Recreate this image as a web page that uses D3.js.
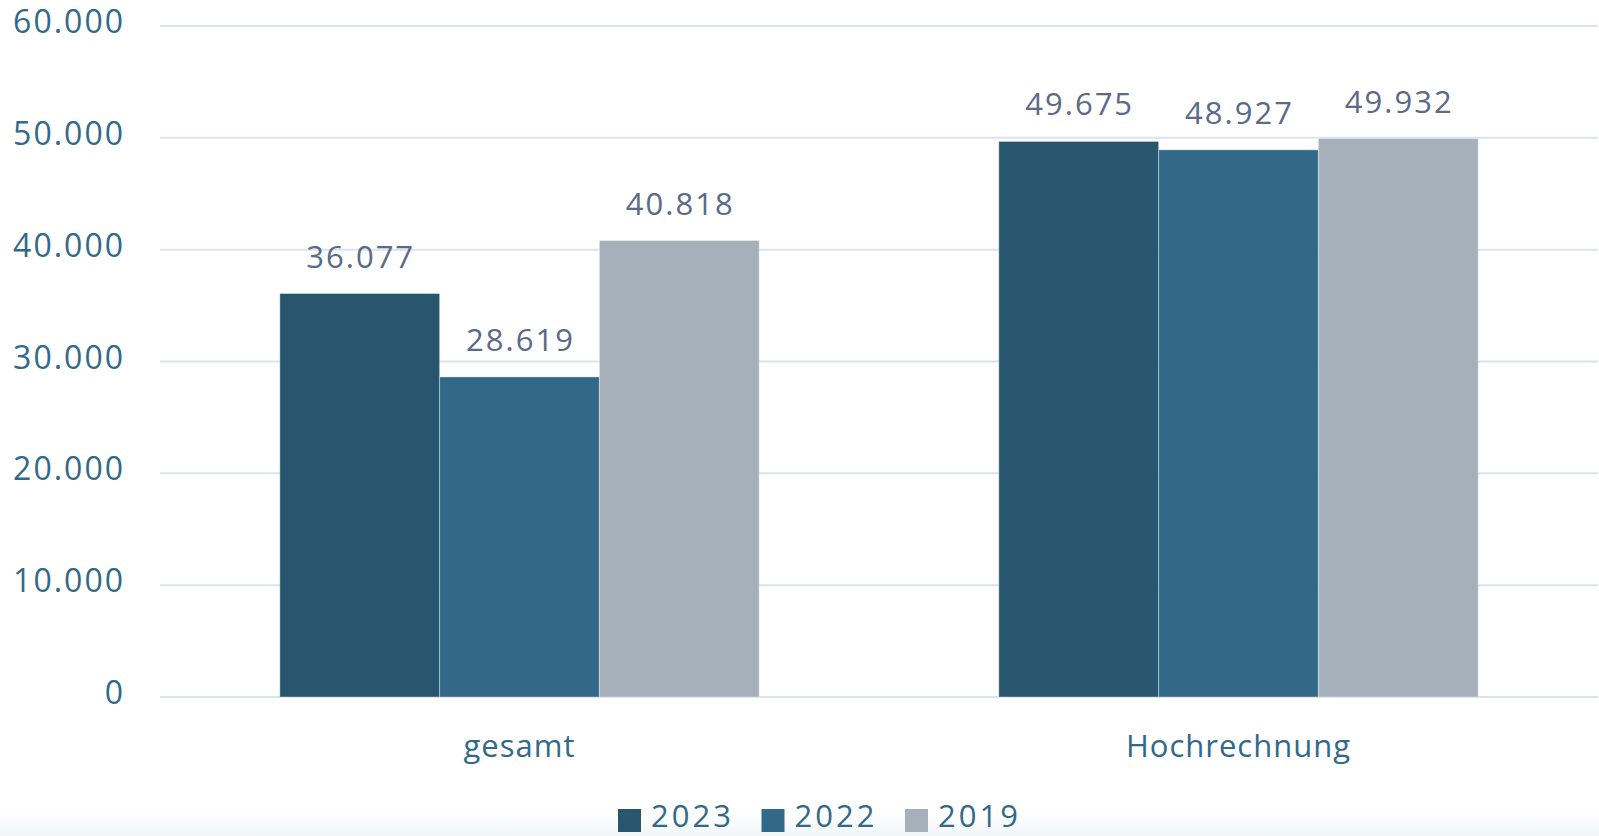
<!DOCTYPE html>
<html>
<head>
<meta charset="utf-8">
<script src="https://cdn.jsdelivr.net/npm/d3@7"></script>
<style>
  html, body { margin: 0; padding: 0; background: #fff; }
  svg { display: block; font-family: "Open Sans", "Noto Sans", sans-serif; }
</style>
</head>
<body>
<div id="chart"></div>
<script>
// Daten
var kategorien = ["gesamt", "Hochrechnung"];
var jahre = ["2023", "2022", "2019"];
var werte2023 = [36077, 49675];
var werte2022 = [28619, 48927];
var werte2019 = [40818, 49932];
var yTicks = [0, 10000, 20000, 30000, 40000, 50000, 60000];
var farben = ["#28566f", "#336988", "#a5b0bb"];

var width = 1599;
var height = 836;

var svg = d3.select("#chart").append("svg")
    .attr("width", width)
    .attr("height", height);

// leichter Verlauf am unteren Rand
var defs = svg.append("defs");
var grad = defs.append("linearGradient")
    .attr("id", "bodenVerlauf")
    .attr("x1", 0).attr("y1", 0).attr("x2", 0).attr("y2", 1);
grad.append("stop").attr("offset", "0%").attr("stop-color", "#ffffff");
grad.append("stop").attr("offset", "100%").attr("stop-color", "#f1f6f9");
svg.append("rect")
    .attr("x", 0).attr("y", 812)
    .attr("width", width).attr("height", height - 812)
    .attr("fill", "url(#bodenVerlauf)");

var links = 160, rechts = 1598, oben = 26, unten = 697;

var y = d3.scaleLinear()
    .domain([0, 60000])
    .range([unten, oben]);

var x0 = d3.scaleBand()
    .domain(kategorien)
    .range([links, rechts])
    .padding(0);

var x1 = d3.scaleBand()
    .domain(jahre)
    .range([x0.bandwidth() / 6, x0.bandwidth() * 5 / 6])
    .padding(0);

var format = function(v) { return d3.format(",")(v).replace(/,/g, "."); };

// Gitterlinien
svg.append("g")
  .selectAll("line")
    .data(yTicks)
  .enter().append("line")
    .attr("x1", links)
    .attr("x2", rechts)
    .attr("y1", function(d) { return y(d); })
    .attr("y2", function(d) { return y(d); })
    .attr("stroke", "#d8e5ee")
    .attr("stroke-width", 2);

// Y-Achsenbeschriftung
svg.append("g")
  .selectAll("text")
    .data(yTicks)
  .enter().append("text")
    .attr("x", 125)
    .attr("y", function(d) { return y(d) + 7; })
    .attr("text-anchor", "end")
    .attr("fill", "#336988")
    .attr("font-size", 32)
    .attr("letter-spacing", 2)
    .text(function(d) { return format(d); });

// Datenzeilen
var reihen = [werte2023, werte2022, werte2019];
var daten = [];
kategorien.forEach(function(k, i) {
  jahre.forEach(function(j, s) {
    daten.push({ kategorie: k, jahr: j, wert: reihen[s][i], farbe: farben[s] });
  });
});

var balken = svg.append("g")
  .selectAll("g")
    .data(daten)
  .enter().append("g")
    .attr("transform", function(d) { return "translate(" + (x0(d.kategorie) + x1(d.jahr)) + ",0)"; });

balken.append("rect")
    .attr("x", 0)
    .attr("y", function(d) { return y(d.wert); })
    .attr("width", x1.bandwidth())
    .attr("height", function(d) { return y(0) - y(d.wert); })
    .attr("fill", function(d) { return d.farbe; })
    .attr("stroke", "rgba(255,255,255,0.35)")
    .attr("stroke-width", 1);

balken.append("text")
    .attr("x", x1.bandwidth() / 2 + 1)
    .attr("y", function(d) { return y(d.wert) - 26; })
    .attr("text-anchor", "middle")
    .attr("fill", "#5a6a87")
    .attr("font-size", 31)
    .attr("letter-spacing", 2)
    .text(function(d) { return format(d.wert); });

// Kategorien
svg.append("g")
  .selectAll("text")
    .data(kategorien)
  .enter().append("text")
    .attr("x", function(d) { return x0(d) + x0.bandwidth() / 2; })
    .attr("y", 757)
    .attr("text-anchor", "middle")
    .attr("fill", "#336988")
    .attr("font-size", 31)
    .attr("letter-spacing", 1)
    .text(function(d) { return d; });

// Legende
var legende = svg.append("g")
  .selectAll("g")
    .data(jahre)
  .enter().append("g")
    .attr("transform", function(d, i) { return "translate(" + (618 + i * 143.5) + ",0)"; });

legende.append("rect")
    .attr("x", 0)
    .attr("y", 809)
    .attr("width", 23)
    .attr("height", 23)
    .attr("fill", function(d, i) { return farben[i]; });

legende.append("text")
    .attr("x", 33)
    .attr("y", 827)
    .attr("fill", "#336988")
    .attr("font-size", 31)
    .attr("letter-spacing", 3)
    .text(function(d) { return d; });
</script>
</body>
</html>
